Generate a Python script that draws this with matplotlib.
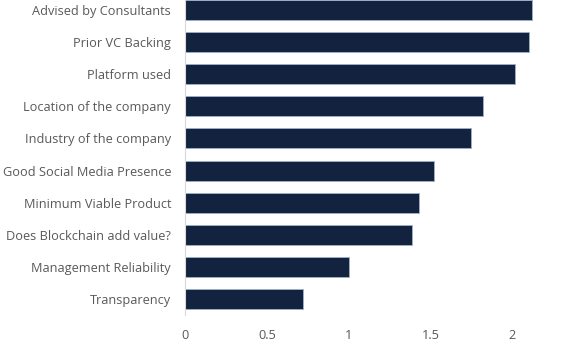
import matplotlib
matplotlib.use("Agg")
import matplotlib.pyplot as plt

# ---------------------------------------------------
# Data (bottom to top)
factors = [
    "Transparency",
    "Management Reliability",
    "Does Blockchain add value?",
    "Minimum Viable Product",
    "Good Social Media Presence",
    "Industry of the company",
    "Location of the company",
    "Platform used",
    "Prior VC Backing",
    "Advised by Consultants",
]
scores = [0.72, 1.00, 1.39, 1.43, 1.52, 1.75, 1.82, 2.02, 2.10, 2.12]
x_ticks = [0, 0.5, 1, 1.5, 2]
x_tick_labels = ["0", "0.5", "1", "1.5", "2"]

plt.rcParams["font.family"] = ["Open Sans", "DejaVu Sans"]

fig = plt.figure(figsize=(5.84, 3.62), dpi=100)
ax = fig.add_axes([185 / 584, 1 - 315 / 362, 409 / 584, 321 / 362])

ax.barh(range(len(factors)), scores, height=0.62,
        color="#13233f", edgecolor="#9fb1c9", linewidth=0.6)

ax.set_ylim(-0.5, len(factors) - 0.5)
ax.set_xlim(0, 2.5)
ax.set_yticks(range(len(factors)))
ax.set_yticklabels(factors)
ax.set_xticks(x_ticks)
ax.set_xticklabels(x_tick_labels)
ax.tick_params(axis="both", length=0, labelsize=9.2, labelcolor="#595959")
ax.tick_params(axis="y", pad=10)
ax.tick_params(axis="x", pad=10)

for side in ["top", "right", "bottom"]:
    ax.spines[side].set_visible(False)
ax.spines["left"].set_color("#d9d9d9")

fig.savefig("out.png", dpi=100)
